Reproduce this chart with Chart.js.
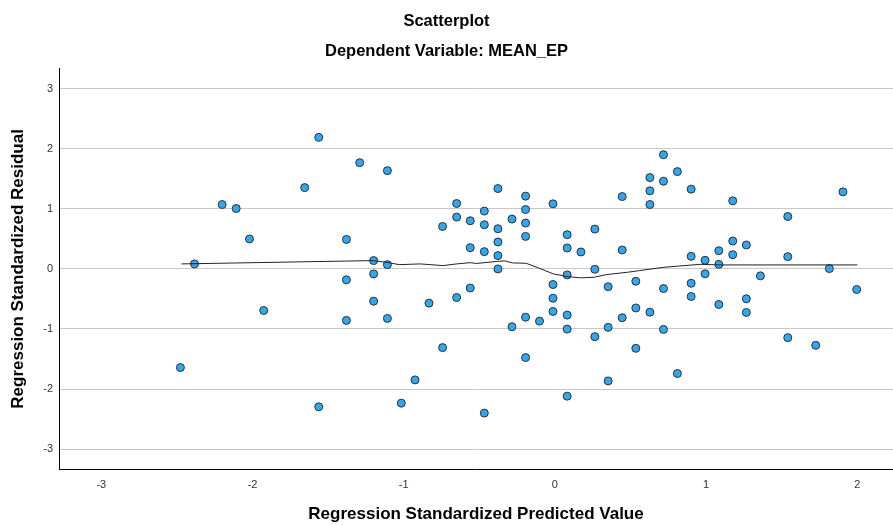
<!DOCTYPE html>
<html>
<head>
<meta charset="utf-8">
<title>Scatterplot</title>
<script src="https://cdn.jsdelivr.net/npm/chart.js@4/dist/chart.umd.min.js"></script>
<style>
  html, body { margin: 0; padding: 0; background: #ffffff; }
  #wrap { width: 893px; height: 525px; }
</style>
</head>
<body>
<div id="wrap"><canvas id="chart" width="893" height="525"></canvas></div>
<script>
// Tick labels
const xTicks = [-3, -2, -1, 0, 1, 2];
const yTicks = [-3, -2, -1, 0, 1, 2, 3];

// Regression standardized predicted values (x) and residuals (y), one per case
const predicted = [
  -1.562, -1.291, -1.108, -1.655, -2.201, -2.108, -2.020, -1.379, -2.384, -1.199,
  -1.108, -1.379, -1.199, -1.926, -1.199, -1.379, -1.108, -2.477, -1.562, -1.016,
  -0.377, -0.650, -0.194, -0.013, 0.445, -0.467, -0.194, -0.743, -0.650, -0.560,
  -0.467, -0.377, -0.284, -0.194, -0.194, -0.560, -0.467, -0.377, -0.377, 0.081,
  0.081, 0.172, 0.264, 0.445, -0.377, 0.081, 0.264, -0.013, -0.560, 0.352,
  0.535, -0.650, -0.833, -0.013, -0.013, -0.194, -0.102, 0.081, -0.284, 0.081,
  0.445, 0.535, 0.352, 0.264, -0.743, -0.194, 0.535, -0.925, 0.352, 0.081,
  -0.467, 0.718, 0.810, 0.628, 0.718, 0.628, 0.901, 0.628, 1.176, 1.905,
  1.540, 1.176, 1.266, 0.901, 0.993, 1.084, 1.176, 1.084, 1.540, 0.993,
  0.901, 1.359, 1.815, 0.718, 1.996, 0.628, 0.901, 1.084, 1.266, 1.266,
  0.718, 1.540, 1.725, 0.810
];
const residual = [
  2.189, 1.768, 1.635, 1.353, 1.071, 1.005, 0.498, 0.491, 0.083, 0.138,
  0.071, -0.182, -0.083, -0.692, -0.537, -0.857, -0.824, -1.642, -2.295, -2.234,
  1.337, 1.088, 1.211, 1.083, 1.204, 0.962, 0.988, 0.706, 0.862, 0.801,
  0.735, 0.668, 0.829, 0.763, 0.541, 0.353, 0.287, 0.448, 0.221, 0.569,
  0.348, 0.282, 0.663, 0.315, 0.000, -0.100, -0.007, -0.260, -0.318, -0.297,
  -0.206, -0.476, -0.570, -0.488, -0.708, -0.803, -0.869, -0.769, -0.962, -1.002,
  -0.813, -0.650, -0.973, -1.128, -1.310, -1.476, -1.322, -1.847, -1.864, -2.118,
  -2.400, 1.900, 1.619, 1.519, 1.459, 1.299, 1.327, 1.071, 1.133, 1.282,
  0.872, 0.464, 0.398, 0.209, 0.143, 0.303, 0.237, 0.076, 0.204, -0.081,
  -0.239, -0.116, 0.005, -0.327, -0.343, -0.720, -0.459, -0.592, -0.498, -0.725,
  -1.007, -1.144, -1.272, -1.741
];

// Loess fit line through the residuals
const fitX = [-2.47, -1.20, -1.10, -1.03, -0.89, -0.74, -0.65, -0.56, -0.52, -0.38,
              -0.33, -0.28, -0.19, -0.12, -0.01, 0.08, 0.17, 0.26, 0.34, 0.48,
              0.56, 0.72, 0.96, 1.09, 2.00];
const fitY = [0.083, 0.138, 0.104, 0.071, 0.083, 0.055, 0.083, 0.104, 0.090, 0.126,
              0.133, 0.100, 0.093, 0.027, -0.083, -0.128, -0.149, -0.139, -0.095, -0.056,
              -0.028, 0.027, 0.076, 0.066, 0.066];

const points = predicted.map((x, i) => ({ x: x, y: residual[i] }));
const fitLine = fitX.map((x, i) => ({ x: x, y: fitY[i] }));

const FONT = "'Liberation Sans', Arial, Helvetica, sans-serif";

new Chart(document.getElementById('chart'), {
  type: 'scatter',
  data: {
    datasets: [
      {
        label: 'Cases',
        data: points,
        backgroundColor: '#33a6ec',
        borderColor: '#26323c',
        borderWidth: 1,
        pointRadius: 4,
        pointHoverRadius: 4,
        order: 2
      },
      {
        label: 'Fit',
        type: 'line',
        data: fitLine,
        showLine: true,
        borderColor: '#222222',
        borderWidth: 1,
        pointRadius: 0,
        fill: false,
        tension: 0,
        order: 1
      }
    ]
  },
  options: {
    responsive: false,
    animation: false,
    devicePixelRatio: 1,
    layout: { padding: 0, autoPadding: false },
    plugins: {
      legend: { display: false },
      tooltip: { enabled: false },
      title: {
        display: true,
        text: 'Scatterplot',
        color: '#000000',
        font: { family: FONT, size: 16.5, weight: 'bold' },
        padding: { top: 12, bottom: 0 }
      },
      subtitle: {
        display: true,
        text: 'Dependent Variable: MEAN_EP',
        color: '#000000',
        font: { family: FONT, size: 16.5, weight: 'bold' },
        padding: { top: 10, bottom: 7.2 }
      }
    },
    scales: {
      x: {
        type: 'linear',
        min: -3.28,
        max: 2.236,
        afterBuildTicks: s => { s.ticks = xTicks.map(v => ({ value: v })); },
        afterFit: s => { s.height = 56; },
        grid: { display: false, drawTicks: false },
        border: { display: true, color: '#000000', width: 1 },
        ticks: {
          color: '#333333',
          font: { family: FONT, size: 11 },
          padding: 9,
          maxRotation: 0
        },
        title: {
          display: true,
          text: 'Regression Standardized Predicted Value',
          color: '#000000',
          font: { family: FONT, size: 17, weight: 'bold' },
          padding: { top: 0, bottom: 0 }
        }
      },
      y: {
        type: 'linear',
        min: -3.33,
        max: 3.33,
        afterBuildTicks: s => { s.ticks = yTicks.map(v => ({ value: v })); },
        afterFit: s => { s.width = 59; },
        grid: { display: true, color: '#c8c8c8', lineWidth: 1, drawTicks: false },
        border: { display: true, color: '#000000', width: 1 },
        ticks: {
          color: '#333333',
          font: { family: FONT, size: 11 },
          padding: 6
        },
        title: {
          display: true,
          text: 'Regression Standardized Residual',
          color: '#000000',
          font: { family: FONT, size: 17, weight: 'bold' },
          padding: { top: 8, bottom: 0 }
        }
      }
    }
  }
});
</script>
</body>
</html>
